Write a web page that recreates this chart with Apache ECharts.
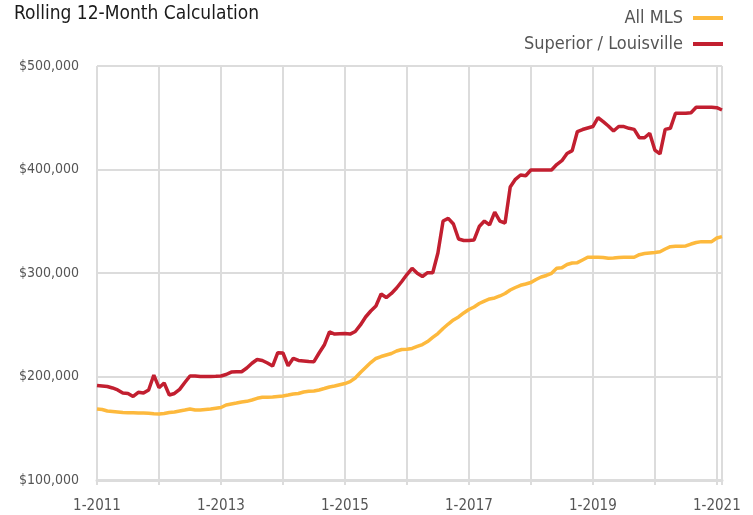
<!DOCTYPE html>
<html>
<head>
<meta charset="utf-8">
<script src="https://cdn.jsdelivr.net/npm/echarts@6/dist/echarts.min.js"></script>
<style>
html,body{margin:0;padding:0;background:#fff;}
#chart{width:753px;height:515px;}
</style>
</head>
<body>
<div id="chart"></div>
<script>
// Monthly categories 1-2011 .. 2-2021
const startYear = 2011;
const monthCount = 122;
const categories = [];
for (let i = 0; i < monthCount; i++) {
  categories.push(((i % 12) + 1) + '-' + (startYear + Math.floor(i / 12)));
}

// Values in thousands of dollars (rolling 12-month median price)
const allMLS = [
  168.6,168.1,166.7,166.2,165.7,165.2,165.0,164.9,164.7,164.7,164.4,164.0,
  163.8,164.2,165.2,165.7,166.7,167.6,168.6,167.6,167.6,168.1,168.6,169.3,
  170.0,172.5,173.5,174.4,175.4,176.0,177.3,178.9,179.9,179.9,180.2,180.7,
  181.2,182.1,183.1,183.6,185.0,185.7,186.0,187.0,188.4,189.9,190.8,192.0,
  193.2,195.0,198.5,203.9,208.7,213.5,217.4,219.3,220.8,222.2,224.6,226.1,
  226.3,227.1,229.0,230.9,233.8,237.7,241.5,246.4,250.7,254.6,257.5,261.4,
  264.7,267.2,270.5,272.9,274.9,275.9,277.8,280.2,283.6,286.0,288.1,289.4,
  290.8,293.7,296.1,297.6,299.7,304.5,305.1,308.2,309.7,310.0,312.6,315.2,
  315.2,315.2,315.0,314.2,314.5,315.0,315.2,315.2,315.2,317.7,318.8,319.3,
  319.8,320.6,323.2,325.4,325.8,325.8,326.1,328.0,329.5,330.3,330.3,330.3,
  333.8,335.1
];
const superiorLouisville = [
  191.3,190.8,190.3,188.9,187.0,184.0,183.6,180.7,184.7,184.0,187.0,201.4,
  189.2,193.7,182.1,183.6,187.6,194.2,200.5,200.5,200.0,200.0,200.0,200.2,
  200.5,201.9,204.3,204.6,204.6,208.2,212.8,216.4,215.5,213.0,210.1,223.0,
  222.7,210.4,217.6,215.5,215.0,214.5,214.3,222.7,230.4,243.0,241.0,241.3,
  241.5,241.0,243.5,249.8,257.5,263.3,268.1,279.7,276.3,280.2,285.5,291.8,
  298.5,304.5,299.7,296.6,300.3,300.3,319.3,350.2,352.8,347.3,332.8,331.4,
  331.4,331.9,344.9,350.2,346.4,358.9,350.2,348.3,383.1,390.5,394.7,394.0,
  399.5,399.5,399.5,399.5,399.5,404.8,408.5,415.5,418.2,436.7,438.6,440.1,
  441.5,450.2,446.2,442.0,437.2,441.5,441.5,439.8,438.8,430.7,430.7,435.0,
  418.8,415.0,438.8,439.8,454.3,454.3,454.3,454.9,460.1,460.1,460.1,460.1,
  459.7,457.5
];
const yTicks = [100000, 200000, 300000, 400000, 500000];

const FONT = "'Liberation Sans Narrow', 'DejaVu Sans Condensed', 'Roboto', sans-serif";
const RED = '#c21f30';
const YELLOW = '#fdb93d';
const GRIDC = '#dcdcdc';

const chart = echarts.init(document.getElementById('chart'), null, {renderer: 'canvas'});
chart.setOption({
  animation: false,
  backgroundColor: '#ffffff',
  title: {
    text: 'Rolling 12-Month Calculation',
    left: 9, top: 0,
    textStyle: {fontFamily: FONT, fontSize: 19, fontWeight: 'normal', color: '#1a1a1a'}
  },
  legend: [
    {
      data: ['All MLS'], right: 30, top: 9, padding: 0, align: 'right',
      icon: 'rect', itemWidth: 30, itemHeight: 4,
      textStyle: {fontFamily: FONT, fontSize: 18, color: '#555', padding: [0, 5, 0, 0]}
    },
    {
      data: ['Superior / Louisville'], right: 30, top: 35, padding: 0, align: 'right',
      icon: 'rect', itemWidth: 30, itemHeight: 4,
      textStyle: {fontFamily: FONT, fontSize: 18, color: '#555', padding: [0, 5, 0, 0]}
    }
  ],
  grid: {left: 97, right: 31, top: 66, bottom: 35, containLabel: false},
  xAxis: {
    type: 'category',
    data: categories,
    boundaryGap: false,
    axisLine: {show: true, lineStyle: {color: GRIDC, width: 3}},
    axisTick: {show: true, length: 5, interval: (i) => i % 12 === 0 || i === monthCount - 1, lineStyle: {color: GRIDC, width: 2}},
    axisLabel: {
      interval: (i) => i % 24 === 0, margin: 19,
      fontFamily: FONT, fontSize: 15, color: '#555'
    },
    splitLine: {show: true, interval: (i) => i % 12 === 0 || i === monthCount - 1, lineStyle: {color: GRIDC, width: 2}}
  },
  yAxis: {
    type: 'value',
    min: yTicks[0], max: yTicks[yTicks.length - 1], interval: 100000,
    axisLine: {show: false},
    axisTick: {show: false},
    axisLabel: {
      margin: 18,
      fontFamily: FONT, fontSize: 14, color: '#555',
      formatter: (v) => '$' + v.toLocaleString('en-US')
    },
    splitLine: {show: true, lineStyle: {color: GRIDC, width: 2}}
  },
  series: [
    {
      name: 'All MLS', type: 'line', showSymbol: false, symbol: 'none',
      data: allMLS.map(v => v * 1000),
      lineStyle: {color: YELLOW, width: 3.5}, itemStyle: {color: YELLOW},
      z: 3
    },
    {
      name: 'Superior / Louisville', type: 'line', showSymbol: false, symbol: 'none',
      data: superiorLouisville.map(v => v * 1000),
      lineStyle: {color: RED, width: 3.5}, itemStyle: {color: RED},
      z: 4
    }
  ]
});
</script>
</body>
</html>
